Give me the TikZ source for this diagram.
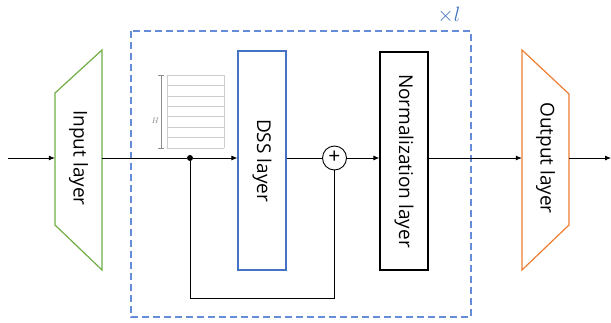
\documentclass[tikz,border=0pt]{standalone}
\usepackage{fontspec}
\setmainfont{Open Sans}
\usetikzlibrary{arrows.meta,calc}
\definecolor{ingreen}{RGB}{112,173,71}
\definecolor{outorange}{RGB}{237,125,49}
\definecolor{dssblue}{RGB}{68,114,196}
\definecolor{loopblue}{RGB}{100,140,215}
\definecolor{gridgray}{RGB}{205,205,205}
\definecolor{bargray}{RGB}{140,140,140}
\tikzset{
  layerbox/.style={inner sep=0pt, font=\fontsize{19}{22}\selectfont},
  flow/.style={line width=0.8pt, draw=black},
  arr/.style={flow, -{Latex[length=6pt,width=5pt]}},
  junction/.style={circle, fill=black, inner sep=0pt, minimum size=6pt},
}
\begin{document}
\begin{tikzpicture}[x=1pt,y=-1pt]
\useasboundingbox (0,0) rectangle (611,322);

% repeated block
\draw[loopblue, line width=1.3pt, dash pattern=on 7pt off 4pt] (131,31) rectangle (471,317);
\node[text=dssblue, font=\fontsize{22}{24}\selectfont] (rep) at (449,15) {$\times l$};

% input and output trapezoids
\node[layerbox, minimum width=47pt, minimum height=220pt] (in) at (78.5,158) {\rotatebox{-90}{Input layer}};
\draw[ingreen, line width=1.2pt] (102,50) -- (102,270) -- (55,225) -- (55,93) -- cycle;
\node[layerbox, minimum width=47pt, minimum height=220pt] (out) at (545.5,158) {\rotatebox{-90}{Output layer}};
\draw[outorange, line width=1.2pt] (522,50) -- (569,94) -- (569,225) -- (522,270) -- cycle;

% inner layers
\node[layerbox, draw=dssblue, line width=1.2pt, minimum width=48pt, minimum height=219pt] (dss) at (262,160.5) {\rotatebox{-90}{DSS layer}};
\node[layerbox, draw=black, line width=1.2pt, minimum width=48pt, minimum height=218pt] (norm) at (404,161) {\rotatebox{-90}{Normalization layer}};

% residual sum
\node[circle, draw=black, line width=0.9pt, minimum size=24pt, inner sep=0pt, font=\fontsize{21}{21}\selectfont] (sum) at (334.5,158) {\raisebox{1pt}{+}};

% sequence icon
\foreach \yy in {75,85.4,...,149} \draw[gridgray, line width=0.6pt] (167,\yy) -- (224,\yy);
\draw[gridgray, line width=0.6pt] (167,75) -- (167,148) (224,75) -- (224,148);
\draw[bargray, line width=0.9pt] (161,75) -- (161,148) (158,75) -- (164,75) (158,148) -- (164,148);
\node[bargray, font=\fontsize{8}{8}\selectfont] (hlab) at (155.5,121) {$H$};

% connectors
\coordinate (src) at (8,158);
\coordinate (dst) at (611,158);
\node[junction] (split) at (190,158) {};
\draw[arr] (src) -- (in.west);
\draw[flow] (in.east) -- (split);
\draw[arr] (split) -- (dss.west |- split);
\draw[flow] (dss.east |- sum) -- (sum.west);
\draw[flow] (split) |- (334.5,298) -- (sum.south);
\draw[arr] (sum.east) -- (norm.west |- sum);
\draw[arr] (norm.east |- sum) -- (out.west);
\draw[arr] (out.east) -- (dst);
\end{tikzpicture}
\end{document}
